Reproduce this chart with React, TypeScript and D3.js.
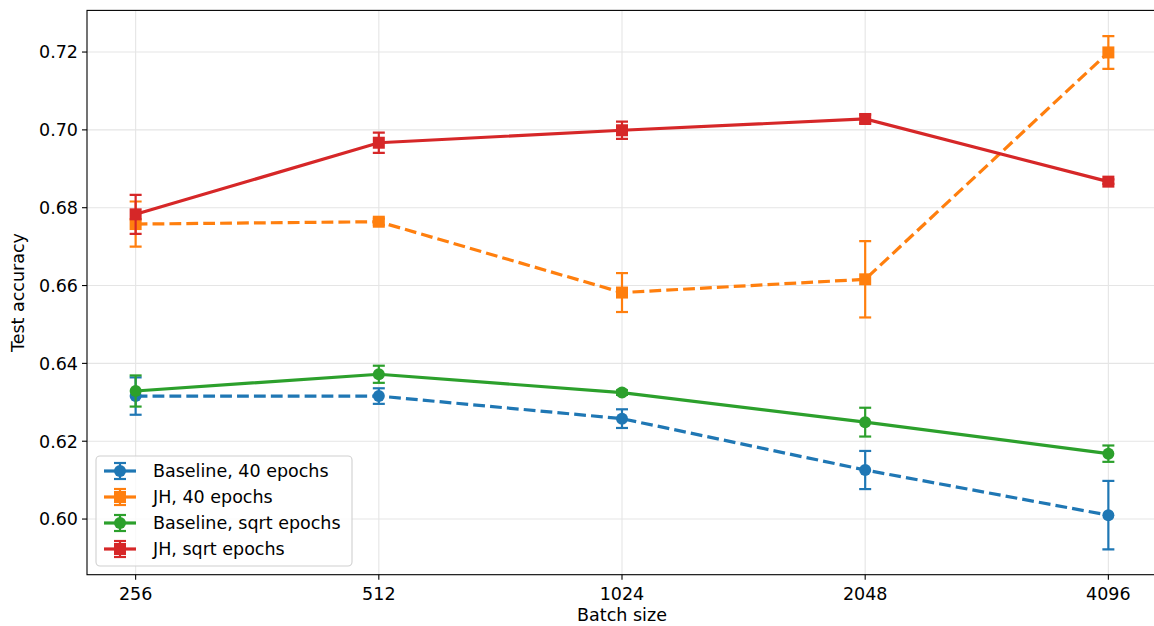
import React from "react";
import * as d3 from "d3";

const batchSizes = [256, 512, 1024, 2048, 4096];
const yTicks = [0.6, 0.62, 0.64, 0.66, 0.68, 0.7, 0.72];

const baseline40 = [0.6316, 0.6316, 0.6258, 0.6126, 0.601];
const baseline40Err = [0.0048, 0.002, 0.0024, 0.0049, 0.0088];
const jh40 = [0.6758, 0.6764, 0.6582, 0.6616, 0.7199];
const jh40Err = [0.0058, 0.0008, 0.005, 0.0098, 0.0042];
const baselineSqrt = [0.6329, 0.6372, 0.6325, 0.6249, 0.6168];
const baselineSqrtErr = [0.004, 0.0022, 0.0006, 0.0037, 0.0021];
const jhSqrt = [0.6783, 0.6967, 0.6999, 0.7028, 0.6867];
const jhSqrtErr = [0.005, 0.0026, 0.0022, 0.0011, 0.0006];

const seriesNames = ["Baseline, 40 epochs", "JH, 40 epochs", "Baseline, sqrt epochs", "JH, sqrt epochs"];
const seriesColors = ["#1f77b4", "#ff7f0e", "#2ca02c", "#d62728"];
const seriesDashed = [true, true, false, false];
const seriesMarkers = ["circle", "square", "circle", "square"];
const seriesValues = [baseline40, jh40, baselineSqrt, jhSqrt];
const seriesErrors = [baseline40Err, jh40Err, baselineSqrtErr, jhSqrtErr];

const W = 1154;
const H = 626;
const L = 87, R = 1157, T = 10.4, B = 574.7;
const FONT = "DejaVu Sans, sans-serif";
const FS = 17.5;

export default function App() {
  const x = d3.scaleLinear().domain([7.8, 12.2]).range([L, R]);
  const xs = (b: number) => x(Math.log2(b));
  const y = d3.scaleLinear().domain([0.5857, 0.7307]).range([B, T]);
  const line = d3.line<[number, number]>().x((d) => d[0]).y((d) => d[1]);

  const marker = (kind: string, cx: number, cy: number, color: string, key: string) =>
    kind === "circle" ? (
      <circle key={key} cx={cx} cy={cy} r={6} fill={color} />
    ) : (
      <rect key={key} x={cx - 6} y={cy - 6} width={12} height={12} fill={color} />
    );

  return (
    <svg width={W} height={H} style={{ display: "block", position: "absolute", left: 0, top: 0 }} fontFamily={FONT}>
      <rect x={0} y={0} width={W} height={H} fill="#fff" />
      <defs>
        <clipPath id="plot">
          <rect x={L} y={T} width={R - L} height={B - T} />
        </clipPath>
      </defs>
      <g stroke="#e5e5e5" strokeWidth={1.1}>
        {batchSizes.map((b) => (
          <line key={"gx" + b} x1={xs(b)} x2={xs(b)} y1={T} y2={B} />
        ))}
        {yTicks.map((t) => (
          <line key={"gy" + t} x1={L} x2={R} y1={y(t)} y2={y(t)} />
        ))}
      </g>
      <g clipPath="url(#plot)">
        {seriesValues.map((vals, si) => {
          const color = seriesColors[si];
          const pts: [number, number][] = vals.map((v, i) => [xs(batchSizes[i]), y(v)]);
          return (
            <g key={"s" + si}>
              {vals.map((v, i) => {
                const e = seriesErrors[si][i];
                const cx = xs(batchSizes[i]);
                return (
                  <g key={"e" + i} stroke={color} strokeWidth={2.2}>
                    <line x1={cx} x2={cx} y1={y(v - e)} y2={y(v + e)} />
                    <line x1={cx - 6} x2={cx + 6} y1={y(v - e)} y2={y(v - e)} />
                    <line x1={cx - 6} x2={cx + 6} y1={y(v + e)} y2={y(v + e)} />
                  </g>
                );
              })}
              <path
                d={line(pts) || ""}
                fill="none"
                stroke={color}
                strokeWidth={3.2}
                strokeDasharray={seriesDashed[si] ? "11.8,5.1" : undefined}
              />
              {pts.map((p, i) => marker(seriesMarkers[si], p[0], p[1], color, "m" + i))}
            </g>
          );
        })}
      </g>
      <rect x={L} y={T} width={R - L} height={B - T} fill="none" stroke="#000" strokeWidth={1.1} />
      {batchSizes.map((b) => (
        <g key={"xt" + b}>
          <line x1={xs(b)} x2={xs(b)} y1={B} y2={B + 5} stroke="#000" strokeWidth={1.1} />
          <text x={xs(b)} y={B + 25} textAnchor="middle" fontSize={FS} fill="#000">
            {b}
          </text>
        </g>
      ))}
      {yTicks.map((t) => (
        <g key={"yt" + t}>
          <line x1={L - 5} x2={L} y1={y(t)} y2={y(t)} stroke="#000" strokeWidth={1.1} />
          <text x={L - 9} y={y(t)} dy="0.36em" textAnchor="end" fontSize={FS} fill="#000">
            {t.toFixed(2)}
          </text>
        </g>
      ))}
      <text x={622} y={621} textAnchor="middle" fontSize={FS} fill="#000">
        Batch size
      </text>
      <text
        transform={`translate(24, ${(T + B) / 2}) rotate(-90)`}
        textAnchor="middle"
        fontSize={FS}
        fill="#000"
      >
        Test accuracy
      </text>
      <g>
        <rect x={96} y={456} width={256} height={110} rx={4} fill="#fff" fillOpacity={0.8} stroke="#d0d0d0" strokeWidth={1.1} />
        {seriesNames.map((name, i) => {
          const ly = 471 + i * 26;
          const color = seriesColors[i];
          const cx = 120;
          return (
            <g key={"lg" + i}>
              <g stroke={color} strokeWidth={2.2}>
                <line x1={cx} x2={cx} y1={ly - 8} y2={ly + 8} />
                <line x1={cx - 6} x2={cx + 6} y1={ly - 8} y2={ly - 8} />
                <line x1={cx - 6} x2={cx + 6} y1={ly + 8} y2={ly + 8} />
              </g>
              <line x1={104} x2={136} y1={ly} y2={ly} stroke={color} strokeWidth={3.2} />
              {marker(seriesMarkers[i], cx, ly, color, "lm" + i)}
              <text x={153} y={ly} dy="0.36em" fontSize={FS} fill="#000">
                {name}
              </text>
            </g>
          );
        })}
      </g>
    </svg>
  );
}
